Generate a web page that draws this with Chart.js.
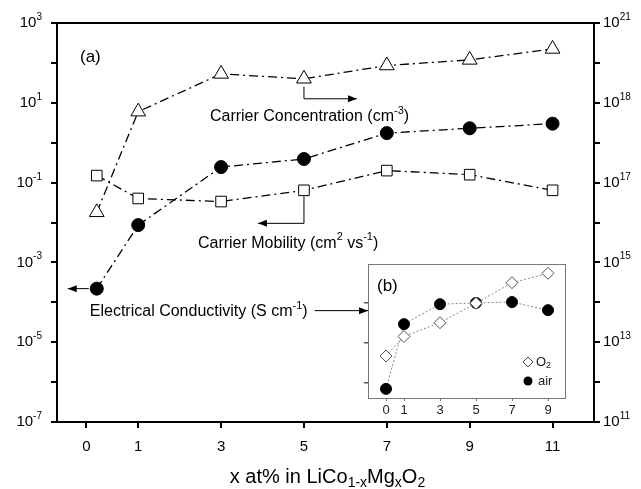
<!DOCTYPE html>
<html>
<head>
<meta charset="utf-8">
<script src="https://cdn.jsdelivr.net/npm/chart.js@4.4.1/dist/chart.umd.min.js"></script>
<style>
  html, body { margin: 0; padding: 0; background: #fff; }
  #wrap { position: relative; width: 641px; height: 489px; }
  #main { position: absolute; left: 0; top: 0; }
  #inset { position: absolute; left: 340px; top: 250px; }
</style>
</head>
<body>
<div id="wrap">
  <canvas id="main" width="641" height="489"></canvas>
  <canvas id="inset" width="240" height="175"></canvas>
</div>
<script>
// x = at% Mg
const xValues = [0, 1, 3, 5, 7, 9, 11];
const xTickValues = [-0.25, 1, 3, 5, 7, 9, 11];
const xTickLabels = ['0', '1', '3', '5', '7', '9', '11'];

// (a) main panel, left axis units
const carrierConc = [0.018, 6.0, 53, 40, 86, 119, 224];
const conductivity = [2.2e-4, 0.0086, 0.245, 0.39, 1.74, 2.3, 3.0];
const mobility = [0.15, 0.04, 0.0335, 0.064, 0.2, 0.158, 0.064];

// decade labels, left and right
const leftExps = [3, 1, -1, -3, -5, -7];
const rightExps = ['21', '18', '17', '15', '13', '11'];

// (b) inset
const insetX = [0, 1, 3, 5, 7, 9];
const insetO2 = [4.7e-6, 1.45e-5, 3.2e-5, 9.8e-5, 3.2e-4, 5.5e-4];
const insetAir = [7.1e-7, 2.95e-5, 9.3e-5, 1.0e-4, 1.05e-4, 6.6e-5];

const FONT = '"Liberation Sans", Arial, Helvetica, sans-serif';

function pts(xs, ys) {
    return xs.map((x, i) => ({ x: x, y: ys[i] }));
}

// draw text with super/subscripts; parts = [[text, 'n'|'sup'|'sub'], ...]
function richText(ctx, parts, x, y, align, size) {
    const small = Math.round(size * 0.68);
    let total = 0;
    parts.forEach(p => {
        ctx.font = (p[1] === 'n' ? size : small) + 'px ' + FONT;
        total += ctx.measureText(p[0]).width;
    });
    let cx = x;
    if (align === 'right') cx = x - total;
    if (align === 'center') cx = x - total / 2;
    ctx.textBaseline = 'middle';
    ctx.textAlign = 'left';
    parts.forEach(p => {
        let dy = 0;
        if (p[1] === 'sup') dy = -size * 0.38;
        if (p[1] === 'sub') dy = size * 0.3;
        ctx.font = (p[1] === 'n' ? size : small) + 'px ' + FONT;
        ctx.fillText(p[0], cx, y + dy);
        cx += ctx.measureText(p[0]).width;
    });
    return cx;
}

function arrow(ctx, pathPts) {
    ctx.beginPath();
    ctx.moveTo(pathPts[0][0], pathPts[0][1]);
    for (let i = 1; i < pathPts.length; i++) ctx.lineTo(pathPts[i][0], pathPts[i][1]);
    ctx.stroke();
    const n = pathPts.length;
    const [x1, y1] = pathPts[n - 2];
    const [x2, y2] = pathPts[n - 1];
    const a = Math.atan2(y2 - y1, x2 - x1);
    ctx.beginPath();
    ctx.moveTo(x2, y2);
    ctx.lineTo(x2 - 9 * Math.cos(a) + 3.5 * Math.sin(a), y2 - 9 * Math.sin(a) - 3.5 * Math.cos(a));
    ctx.lineTo(x2 - 9 * Math.cos(a) - 3.5 * Math.sin(a), y2 - 9 * Math.sin(a) + 3.5 * Math.cos(a));
    ctx.closePath();
    ctx.fill();
}

const tickGrid = {
    drawOnChartArea: false,
    drawTicks: true,
    tickLength: 6,
    color: '#000',
    lineWidth: 2
};

const mainPlugin = {
    id: 'mainDecor',
    afterDraw(chart) {
        const ctx = chart.ctx;
        const ca = chart.chartArea;
        const xs = chart.scales.x, ys = chart.scales.y;
        ctx.save();
        ctx.fillStyle = '#000';
        ctx.strokeStyle = '#000';

        // frame
        ctx.lineWidth = 2;
        ctx.strokeRect(ca.left, ca.top, ca.right - ca.left, ca.bottom - ca.top);

        // decade labels
        leftExps.forEach((e, i) => {
            const y = ys.getPixelForValue(Math.pow(10, e));
            richText(ctx, [['10', 'n'], [String(e), 'sup']], ca.left - 15, y, 'right', 15);
            richText(ctx, [['10', 'n'], [rightExps[i], 'sup']], ca.right + 9, y, 'left', 15);
        });

        // x tick labels + title
        xTickValues.forEach((v, i) => {
            richText(ctx, [[xTickLabels[i], 'n']], xs.getPixelForValue(v), ca.bottom + 25, 'center', 15);
        });
        richText(ctx, [['x at% in LiCo', 'n'], ['1-x', 'sub'], ['Mg', 'n'], ['x', 'sub'], ['O', 'n'], ['2', 'sub']],
            (ca.left + ca.right) / 2 + 2, ca.bottom + 55, 'center', 20);

        richText(ctx, [['(a)', 'n']], ca.left + 23, ca.top + 34, 'left', 17);

        // annotations
        ctx.lineWidth = 1;
        const a = { x: xs.getPixelForValue(5), y: ys.getPixelForValue(carrierConc[3]) };
        arrow(ctx, [[a.x, a.y + 8], [a.x, a.y + 20], [a.x + 53, a.y + 20]]);
        richText(ctx, [['Carrier Concentration (cm', 'n'], ['-3', 'sup'], [')', 'n']], a.x - 94, a.y + 38, 'left', 16);

        const b = { x: xs.getPixelForValue(5), y: ys.getPixelForValue(mobility[3]) };
        arrow(ctx, [[b.x, b.y + 6], [b.x, b.y + 33], [b.x - 46, b.y + 33]]);
        richText(ctx, [['Carrier Mobility (cm', 'n'], ['2', 'sup'], [' vs', 'n'], ['-1', 'sup'], [')', 'n']], b.x - 106, b.y + 53, 'left', 16);

        const c = { x: xs.getPixelForValue(0), y: ys.getPixelForValue(conductivity[0]) };
        arrow(ctx, [[c.x - 8, c.y], [c.x - 29, c.y]]);
        const end = richText(ctx, [['Electrical Conductivity (S cm', 'n'], ['-1', 'sup'], [')', 'n']], c.x - 7, c.y + 23, 'left', 16);
        arrow(ctx, [[end + 7, c.y + 22], [368, c.y + 22]]);
        ctx.restore();
    }
};

const dashDot = [9, 4, 2, 4];

new Chart(document.getElementById('main').getContext('2d'), {
    type: 'scatter',
    data: {
        datasets: [{
            label: 'Carrier Concentration',
            data: pts(xValues, carrierConc),
            showLine: true,
            borderColor: '#000',
            borderWidth: 1.3,
            borderDash: dashDot,
            pointStyle: 'triangle',
            pointRadius: 8.5,
            pointBackgroundColor: '#fff',
            pointBorderColor: '#000',
            pointBorderWidth: 1
        }, {
            label: 'Electrical Conductivity',
            data: pts(xValues, conductivity),
            showLine: true,
            borderColor: '#000',
            borderWidth: 1.3,
            borderDash: dashDot,
            pointStyle: 'circle',
            pointRadius: 6.5,
            pointBackgroundColor: '#000',
            pointBorderColor: '#000',
            pointBorderWidth: 1
        }, {
            label: 'Carrier Mobility',
            data: pts(xValues, mobility),
            showLine: true,
            borderColor: '#000',
            borderWidth: 1.3,
            borderDash: dashDot,
            pointStyle: 'rect',
            pointRadius: 7.5,
            pointBackgroundColor: '#fff',
            pointBorderColor: '#000',
            pointBorderWidth: 1
        }]
    },
    options: {
        responsive: false,
        animation: false,
        devicePixelRatio: 1,
        layout: { padding: { top: 23, left: 0, right: 0, bottom: 0 } },
        plugins: { legend: { display: false }, tooltip: { enabled: false } },
        scales: {
            x: {
                type: 'linear',
                min: -0.96,
                max: 12,
                afterBuildTicks: s => { s.ticks = xTickValues.map(v => ({ value: v })); },
                afterFit: s => { s.height = 67; },
                ticks: { display: false },
                grid: tickGrid,
                border: { display: false }
            },
            y: {
                type: 'logarithmic',
                position: 'left',
                min: 1e-7,
                max: 1e3,
                afterBuildTicks: s => {
                    const t = [];
                    for (let e = -7; e <= 3; e++) t.push({ value: Math.pow(10, e) });
                    s.ticks = t;
                },
                afterFit: s => { s.width = 57; },
                ticks: { display: false },
                grid: tickGrid,
                border: { display: false }
            },
            y2: {
                type: 'logarithmic',
                position: 'right',
                min: 1e-7,
                max: 1e3,
                afterBuildTicks: s => {
                    const t = [];
                    for (let e = -7; e <= 3; e++) t.push({ value: Math.pow(10, e) });
                    s.ticks = t;
                },
                afterFit: s => { s.width = 47; },
                ticks: { display: false },
                grid: tickGrid,
                border: { display: false }
            }
        }
    },
    plugins: [mainPlugin]
});

// inset (b)
const insetPlugin = {
    id: 'insetDecor',
    beforeDraw(chart) {
        const ctx = chart.ctx, ca = chart.chartArea;
        ctx.save();
        ctx.fillStyle = '#fff';
        ctx.fillRect(ca.left, ca.top, ca.right - ca.left, ca.bottom - ca.top + 22);
        ctx.restore();
    },
    afterDraw(chart) {
        const ctx = chart.ctx, ca = chart.chartArea;
        ctx.save();
        ctx.strokeStyle = '#777';
        ctx.lineWidth = 1;
        ctx.strokeRect(ca.left + 0.5, ca.top + 0.5, ca.right - ca.left - 1, ca.bottom - ca.top);
        ctx.fillStyle = '#000';
        richText(ctx, [['(b)', 'n']], ca.left + 9, ca.top + 22, 'left', 17);

        // legend
        const lx = ca.right - 38;
        let ly = ca.top + 98;
        ctx.strokeStyle = '#444';
        ctx.lineWidth = 1;
        ctx.beginPath();
        ctx.moveTo(lx, ly - 5); ctx.lineTo(lx + 5, ly); ctx.lineTo(lx, ly + 5); ctx.lineTo(lx - 5, ly);
        ctx.closePath();
        ctx.stroke();
        ctx.fillStyle = '#222';
        richText(ctx, [['O', 'n'], ['2', 'sub']], lx + 8, ly, 'left', 13);
        ly += 19;
        ctx.fillStyle = '#000';
        ctx.beginPath();
        ctx.arc(lx, ly, 4.5, 0, Math.PI * 2);
        ctx.fill();
        ctx.fillStyle = '#222';
        richText(ctx, [['air', 'n']], lx + 10, ly, 'left', 13);
        ctx.restore();
    }
};

new Chart(document.getElementById('inset').getContext('2d'), {
    type: 'scatter',
    data: {
        datasets: [{
            label: 'O2',
            data: pts(insetX, insetO2),
            showLine: true,
            borderColor: '#888',
            borderWidth: 1,
            borderDash: [2, 2],
            pointStyle: 'rectRot',
            pointRadius: 6,
            pointBackgroundColor: '#fff',
            pointBorderColor: '#555',
            pointBorderWidth: 1
        }, {
            label: 'air',
            data: pts(insetX, insetAir),
            showLine: true,
            borderColor: '#888',
            borderWidth: 1,
            borderDash: [2, 2],
            pointStyle: 'circle',
            pointRadius: 5.5,
            pointBackgroundColor: '#000',
            pointBorderColor: '#000',
            pointBorderWidth: 1
        }]
    },
    options: {
        responsive: false,
        animation: false,
        devicePixelRatio: 1,
        layout: { padding: { top: 14, left: 0, right: 14, bottom: 0 } },
        plugins: { legend: { display: false }, tooltip: { enabled: false } },
        scales: {
            x: {
                type: 'linear',
                min: -1,
                max: 10,
                afterBuildTicks: s => { s.ticks = insetX.map(v => ({ value: v })); },
                afterFit: s => { s.height = 27; },
                ticks: { color: '#222', padding: 2, font: { size: 13, family: FONT } },
                grid: { drawOnChartArea: false, drawTicks: true, tickLength: 3, color: '#777' },
                border: { display: false }
            },
            y: {
                type: 'logarithmic',
                min: 4.2e-7,
                max: 9.4e-4,
                afterBuildTicks: s => { s.ticks = [1e-6, 1e-5, 1e-4].map(v => ({ value: v })); },
                afterFit: s => { s.width = 28; },
                ticks: { display: false },
                grid: { drawOnChartArea: false, drawTicks: true, tickLength: 4, color: '#555', lineWidth: 1.5 },
                border: { display: false }
            }
        }
    },
    plugins: [insetPlugin]
});
</script>
</body>
</html>
